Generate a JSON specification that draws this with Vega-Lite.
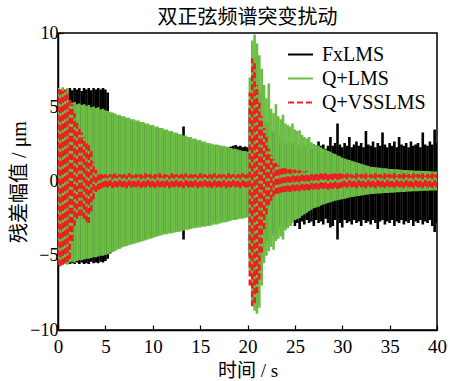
{
"$schema": "https://vega.github.io/schema/vega-lite/v6.json",
"width": 379, "height": 297,
"autosize": "none",
"padding": {"left": 58, "top": 33, "right": 13, "bottom": 51},
"background": "white",
"title": {"text": "双正弦频谱突变扰动", "font": "Noto Sans CJK SC", "fontSize": 20, "fontWeight": "normal", "color": "black", "offset": -4},
"config": {
  "view": {"stroke": "black", "strokeWidth": 1.5},
  "axis": {"grid": false, "domainColor": "black", "domainWidth": 1.5, "tickColor": "black", "tickSize": -5, "tickWidth": 1.2, "labelFont": "Liberation Serif", "labelFontSize": 19, "labelColor": "black", "titleFont": "Liberation Serif, Noto Sans CJK SC", "titleFontSize": 19, "titleFontWeight": "normal", "titleColor": "black", "labelFlush": false, "labelOverlap": false},
  "legend": {"orient": "none", "legendX": 229, "legendY": 8, "labelFont": "Liberation Serif", "labelFontSize": 20, "labelColor": "black", "symbolSize": 625, "symbolStrokeWidth": 2, "labelOffset": 8, "rowPadding": -3, "symbolType": "stroke"}
},
"data": {"values": [
{"s":"FxLMS","t":0,"lo":-5.4,"hi":5.9},{"s":"FxLMS","t":0.25,"lo":-5.5,"hi":6.0},{"s":"FxLMS","t":0.5,"lo":-5.4,"hi":6.1},{"s":"FxLMS","t":0.75,"lo":-5.5,"hi":6.0},
{"s":"FxLMS","t":1,"lo":-5.5,"hi":6.2},{"s":"FxLMS","t":1.25,"lo":-5.55,"hi":6.3},{"s":"FxLMS","t":1.5,"lo":-5.5,"hi":6.15},{"s":"FxLMS","t":1.75,"lo":-5.55,"hi":6.3},
{"s":"FxLMS","t":2,"lo":-5.45,"hi":6.2},{"s":"FxLMS","t":2.25,"lo":-5.55,"hi":6.3},{"s":"FxLMS","t":2.5,"lo":-5.45,"hi":6.1},{"s":"FxLMS","t":2.75,"lo":-5.55,"hi":6.3},
{"s":"FxLMS","t":3,"lo":-5.5,"hi":6.2},{"s":"FxLMS","t":3.25,"lo":-5.55,"hi":6.3},{"s":"FxLMS","t":3.5,"lo":-5.4,"hi":6.15},{"s":"FxLMS","t":3.75,"lo":-5.5,"hi":6.3},
{"s":"FxLMS","t":4,"lo":-5.45,"hi":6.2},{"s":"FxLMS","t":4.25,"lo":-5.5,"hi":6.3},{"s":"FxLMS","t":4.5,"lo":-5.4,"hi":6.2},{"s":"FxLMS","t":4.75,"lo":-5.45,"hi":6.3},
{"s":"FxLMS","t":5,"lo":-5.35,"hi":6.2},{"s":"FxLMS","t":5.25,"lo":-5.2,"hi":6.0},{"s":"FxLMS","t":5.5,"lo":-4.85,"hi":4.6},{"s":"FxLMS","t":5.75,"lo":-4.75,"hi":4.55},
{"s":"FxLMS","t":6,"lo":-4.65,"hi":4.5},{"s":"FxLMS","t":6.25,"lo":-4.5,"hi":4.4},{"s":"FxLMS","t":6.5,"lo":-4.45,"hi":4.4},{"s":"FxLMS","t":6.75,"lo":-4.35,"hi":4.3},
{"s":"FxLMS","t":7,"lo":-4.3,"hi":4.3},{"s":"FxLMS","t":7.25,"lo":-4.25,"hi":4.2},{"s":"FxLMS","t":7.5,"lo":-4.2,"hi":4.2},{"s":"FxLMS","t":7.75,"lo":-4.15,"hi":4.1},
{"s":"FxLMS","t":8,"lo":-4.1,"hi":4.1},{"s":"FxLMS","t":8.25,"lo":-4.05,"hi":4.0},{"s":"FxLMS","t":8.5,"lo":-4.0,"hi":4.0},{"s":"FxLMS","t":8.75,"lo":-3.95,"hi":3.9},
{"s":"FxLMS","t":9,"lo":-3.9,"hi":3.9},{"s":"FxLMS","t":9.25,"lo":-3.85,"hi":3.8},{"s":"FxLMS","t":9.5,"lo":-3.8,"hi":3.8},{"s":"FxLMS","t":9.75,"lo":-3.75,"hi":3.7},
{"s":"FxLMS","t":10,"lo":-3.7,"hi":3.7},{"s":"FxLMS","t":10.25,"lo":-3.65,"hi":3.6},{"s":"FxLMS","t":10.5,"lo":-3.6,"hi":3.6},{"s":"FxLMS","t":10.75,"lo":-3.55,"hi":3.5},
{"s":"FxLMS","t":11,"lo":-3.5,"hi":3.5},{"s":"FxLMS","t":11.25,"lo":-3.47,"hi":3.4},{"s":"FxLMS","t":11.5,"lo":-3.45,"hi":3.4},{"s":"FxLMS","t":11.75,"lo":-3.4,"hi":3.3},
{"s":"FxLMS","t":12,"lo":-3.4,"hi":3.3},{"s":"FxLMS","t":12.25,"lo":-3.35,"hi":3.2},{"s":"FxLMS","t":12.5,"lo":-3.3,"hi":3.2},{"s":"FxLMS","t":12.75,"lo":-3.3,"hi":3.1},
{"s":"FxLMS","t":13,"lo":-3.25,"hi":3.1},{"s":"FxLMS","t":13.25,"lo":-3.9,"hi":3.7},{"s":"FxLMS","t":13.5,"lo":-3.15,"hi":3.0},{"s":"FxLMS","t":13.75,"lo":-3.15,"hi":2.9},
{"s":"FxLMS","t":14,"lo":-3.1,"hi":2.9},{"s":"FxLMS","t":14.25,"lo":-3.05,"hi":2.8},{"s":"FxLMS","t":14.5,"lo":-3.05,"hi":2.8},{"s":"FxLMS","t":14.75,"lo":-3.0,"hi":2.7},
{"s":"FxLMS","t":15,"lo":-3.0,"hi":2.7},{"s":"FxLMS","t":15.25,"lo":-2.95,"hi":2.6},{"s":"FxLMS","t":15.5,"lo":-2.95,"hi":2.6},{"s":"FxLMS","t":15.75,"lo":-2.9,"hi":2.5},
{"s":"FxLMS","t":16,"lo":-2.9,"hi":2.5},{"s":"FxLMS","t":16.25,"lo":-2.85,"hi":2.45},{"s":"FxLMS","t":16.5,"lo":-2.8,"hi":2.4},{"s":"FxLMS","t":16.75,"lo":-2.8,"hi":2.4},
{"s":"FxLMS","t":17,"lo":-2.75,"hi":2.35},{"s":"FxLMS","t":17.25,"lo":-2.7,"hi":2.3},{"s":"FxLMS","t":17.5,"lo":-2.65,"hi":2.3},{"s":"FxLMS","t":17.75,"lo":-2.65,"hi":2.25},
{"s":"FxLMS","t":18,"lo":-2.6,"hi":2.3},{"s":"FxLMS","t":18.25,"lo":-2.55,"hi":2.35},{"s":"FxLMS","t":18.5,"lo":-2.55,"hi":2.4},{"s":"FxLMS","t":18.75,"lo":-2.5,"hi":2.45},
{"s":"FxLMS","t":19,"lo":-2.5,"hi":2.35},{"s":"FxLMS","t":19.25,"lo":-2.45,"hi":2.4},{"s":"FxLMS","t":19.5,"lo":-2.4,"hi":2.3},{"s":"FxLMS","t":19.75,"lo":-2.4,"hi":2.35},
{"s":"FxLMS","t":20,"lo":-2.35,"hi":2.3},{"s":"FxLMS","t":20.25,"lo":-5,"hi":5},{"s":"FxLMS","t":20.5,"lo":-7,"hi":7},{"s":"FxLMS","t":20.75,"lo":-7.5,"hi":8},
{"s":"FxLMS","t":21,"lo":-7,"hi":7},{"s":"FxLMS","t":21.25,"lo":-6,"hi":6},{"s":"FxLMS","t":21.5,"lo":-5,"hi":5},{"s":"FxLMS","t":21.75,"lo":-4.5,"hi":4.5},
{"s":"FxLMS","t":22,"lo":-4,"hi":4},{"s":"FxLMS","t":22.25,"lo":-3.8,"hi":3.8},{"s":"FxLMS","t":22.5,"lo":-3.6,"hi":3.5},{"s":"FxLMS","t":22.75,"lo":-3.5,"hi":3.3},
{"s":"FxLMS","t":23,"lo":-3.4,"hi":3.2},{"s":"FxLMS","t":23.25,"lo":-3.2,"hi":3.0},{"s":"FxLMS","t":23.5,"lo":-2.9,"hi":2.5},{"s":"FxLMS","t":23.75,"lo":-3.0,"hi":2.4},
{"s":"FxLMS","t":24,"lo":-3.1,"hi":2.6},{"s":"FxLMS","t":24.25,"lo":-2.8,"hi":2.3},{"s":"FxLMS","t":24.5,"lo":-3.0,"hi":2.5},{"s":"FxLMS","t":24.75,"lo":-2.7,"hi":2.6},
{"s":"FxLMS","t":25,"lo":-3.0,"hi":2.4},{"s":"FxLMS","t":25.25,"lo":-2.8,"hi":2.5},{"s":"FxLMS","t":25.5,"lo":-3.2,"hi":2.2},{"s":"FxLMS","t":25.75,"lo":-2.7,"hi":2.6},
{"s":"FxLMS","t":26,"lo":-2.9,"hi":2.4},{"s":"FxLMS","t":26.25,"lo":-2.6,"hi":2.3},{"s":"FxLMS","t":26.5,"lo":-2.8,"hi":2.6},{"s":"FxLMS","t":26.75,"lo":-2.7,"hi":2.2},
{"s":"FxLMS","t":27,"lo":-3.0,"hi":2.5},{"s":"FxLMS","t":27.25,"lo":-2.6,"hi":2.3},{"s":"FxLMS","t":27.5,"lo":-2.8,"hi":2.7},{"s":"FxLMS","t":27.75,"lo":-2.7,"hi":2.4},
{"s":"FxLMS","t":28,"lo":-2.9,"hi":2.5},{"s":"FxLMS","t":28.25,"lo":-2.5,"hi":2.2},{"s":"FxLMS","t":28.5,"lo":-2.8,"hi":2.4},{"s":"FxLMS","t":28.75,"lo":-3.1,"hi":3.0},
{"s":"FxLMS","t":29,"lo":-3.0,"hi":2.4},{"s":"FxLMS","t":29.25,"lo":-2.6,"hi":2.6},{"s":"FxLMS","t":29.5,"lo":-3.9,"hi":3.9},{"s":"FxLMS","t":29.75,"lo":-2.8,"hi":2.5},
{"s":"FxLMS","t":30,"lo":-3.1,"hi":2.3},{"s":"FxLMS","t":30.25,"lo":-2.6,"hi":2.6},{"s":"FxLMS","t":30.5,"lo":-2.8,"hi":2.4},{"s":"FxLMS","t":30.75,"lo":-2.7,"hi":3.0},
{"s":"FxLMS","t":31,"lo":-2.9,"hi":2.3},{"s":"FxLMS","t":31.25,"lo":-2.6,"hi":2.5},{"s":"FxLMS","t":31.5,"lo":-2.8,"hi":2.7},{"s":"FxLMS","t":31.75,"lo":-2.7,"hi":2.4},
{"s":"FxLMS","t":32,"lo":-3.0,"hi":2.6},{"s":"FxLMS","t":32.25,"lo":-2.6,"hi":2.3},{"s":"FxLMS","t":32.5,"lo":-2.8,"hi":3.4},{"s":"FxLMS","t":32.75,"lo":-2.7,"hi":2.5},
{"s":"FxLMS","t":33,"lo":-2.9,"hi":2.4},{"s":"FxLMS","t":33.25,"lo":-2.6,"hi":2.7},{"s":"FxLMS","t":33.5,"lo":-2.8,"hi":2.3},{"s":"FxLMS","t":33.75,"lo":-3.2,"hi":2.6},
{"s":"FxLMS","t":34,"lo":-2.7,"hi":2.4},{"s":"FxLMS","t":34.25,"lo":-2.6,"hi":3.3},{"s":"FxLMS","t":34.5,"lo":-2.9,"hi":2.5},{"s":"FxLMS","t":34.75,"lo":-2.7,"hi":2.3},
{"s":"FxLMS","t":35,"lo":-2.8,"hi":2.6},{"s":"FxLMS","t":35.25,"lo":-2.6,"hi":2.4},{"s":"FxLMS","t":35.5,"lo":-3.0,"hi":2.7},{"s":"FxLMS","t":35.75,"lo":-2.7,"hi":2.3},
{"s":"FxLMS","t":36,"lo":-2.8,"hi":3.0},{"s":"FxLMS","t":36.25,"lo":-2.6,"hi":2.5},{"s":"FxLMS","t":36.5,"lo":-2.9,"hi":2.4},{"s":"FxLMS","t":36.75,"lo":-2.7,"hi":2.6},
{"s":"FxLMS","t":37,"lo":-2.8,"hi":2.3},{"s":"FxLMS","t":37.25,"lo":-2.6,"hi":2.7},{"s":"FxLMS","t":37.5,"lo":-3.0,"hi":2.4},{"s":"FxLMS","t":37.75,"lo":-2.7,"hi":2.5},
{"s":"FxLMS","t":38,"lo":-2.8,"hi":2.6},{"s":"FxLMS","t":38.25,"lo":-2.6,"hi":2.3},{"s":"FxLMS","t":38.5,"lo":-2.9,"hi":3.3},{"s":"FxLMS","t":38.75,"lo":-2.7,"hi":2.5},
{"s":"FxLMS","t":39,"lo":-2.8,"hi":2.4},{"s":"FxLMS","t":39.25,"lo":-2.6,"hi":2.7},{"s":"FxLMS","t":39.5,"lo":-3.0,"hi":2.5},{"s":"FxLMS","t":39.75,"lo":-3.4,"hi":3.5},
{"s":"FxLMS","t":40,"lo":-2.8,"hi":2.6},

{"s":"Q+LMS","t":0,"lo":-5.6,"hi":6.3},{"s":"Q+LMS","t":0.25,"lo":-5.5,"hi":6.2},{"s":"Q+LMS","t":0.5,"lo":-5.6,"hi":6.35},{"s":"Q+LMS","t":0.75,"lo":-5.55,"hi":6.2},
{"s":"Q+LMS","t":1,"lo":-5.6,"hi":6.3},{"s":"Q+LMS","t":1.25,"lo":-5.45,"hi":5.4},{"s":"Q+LMS","t":1.5,"lo":-5.4,"hi":5.3},{"s":"Q+LMS","t":1.75,"lo":-5.45,"hi":5.35},
{"s":"Q+LMS","t":2,"lo":-5.35,"hi":5.2},{"s":"Q+LMS","t":2.25,"lo":-5.3,"hi":5.25},{"s":"Q+LMS","t":2.5,"lo":-5.3,"hi":5.15},{"s":"Q+LMS","t":2.75,"lo":-5.25,"hi":5.2},
{"s":"Q+LMS","t":3,"lo":-5.2,"hi":5.1},{"s":"Q+LMS","t":3.25,"lo":-5.2,"hi":5.15},{"s":"Q+LMS","t":3.5,"lo":-5.15,"hi":5.0},{"s":"Q+LMS","t":3.75,"lo":-5.1,"hi":5.05},
{"s":"Q+LMS","t":4,"lo":-5.1,"hi":4.95},{"s":"Q+LMS","t":4.25,"lo":-5.05,"hi":5.0},{"s":"Q+LMS","t":4.5,"lo":-5.0,"hi":4.85},{"s":"Q+LMS","t":4.75,"lo":-5.0,"hi":4.9},
{"s":"Q+LMS","t":5,"lo":-4.95,"hi":4.8},{"s":"Q+LMS","t":5.25,"lo":-4.9,"hi":4.75},{"s":"Q+LMS","t":5.5,"lo":-4.8,"hi":4.7},{"s":"Q+LMS","t":5.75,"lo":-4.75,"hi":4.65},
{"s":"Q+LMS","t":6,"lo":-4.7,"hi":4.6},{"s":"Q+LMS","t":6.25,"lo":-4.6,"hi":4.5},{"s":"Q+LMS","t":6.5,"lo":-4.55,"hi":4.5},{"s":"Q+LMS","t":6.75,"lo":-4.45,"hi":4.4},
{"s":"Q+LMS","t":7,"lo":-4.4,"hi":4.4},{"s":"Q+LMS","t":7.25,"lo":-4.35,"hi":4.3},{"s":"Q+LMS","t":7.5,"lo":-4.3,"hi":4.3},{"s":"Q+LMS","t":7.75,"lo":-4.25,"hi":4.2},
{"s":"Q+LMS","t":8,"lo":-4.2,"hi":4.2},{"s":"Q+LMS","t":8.25,"lo":-4.15,"hi":4.1},{"s":"Q+LMS","t":8.5,"lo":-4.1,"hi":4.1},{"s":"Q+LMS","t":8.75,"lo":-4.05,"hi":4.0},
{"s":"Q+LMS","t":9,"lo":-4.0,"hi":4.0},{"s":"Q+LMS","t":9.25,"lo":-3.95,"hi":3.9},{"s":"Q+LMS","t":9.5,"lo":-3.9,"hi":3.9},{"s":"Q+LMS","t":9.75,"lo":-3.85,"hi":3.8},
{"s":"Q+LMS","t":10,"lo":-3.8,"hi":3.8},{"s":"Q+LMS","t":10.25,"lo":-3.75,"hi":3.7},{"s":"Q+LMS","t":10.5,"lo":-3.7,"hi":3.7},{"s":"Q+LMS","t":10.75,"lo":-3.65,"hi":3.6},
{"s":"Q+LMS","t":11,"lo":-3.6,"hi":3.6},{"s":"Q+LMS","t":11.25,"lo":-3.57,"hi":3.5},{"s":"Q+LMS","t":11.5,"lo":-3.55,"hi":3.5},{"s":"Q+LMS","t":11.75,"lo":-3.5,"hi":3.4},
{"s":"Q+LMS","t":12,"lo":-3.5,"hi":3.4},{"s":"Q+LMS","t":12.25,"lo":-3.45,"hi":3.3},{"s":"Q+LMS","t":12.5,"lo":-3.4,"hi":3.3},{"s":"Q+LMS","t":12.75,"lo":-3.4,"hi":3.2},
{"s":"Q+LMS","t":13,"lo":-3.35,"hi":3.2},{"s":"Q+LMS","t":13.25,"lo":-3.3,"hi":3.1},{"s":"Q+LMS","t":13.5,"lo":-3.25,"hi":3.1},{"s":"Q+LMS","t":13.75,"lo":-3.25,"hi":3.0},
{"s":"Q+LMS","t":14,"lo":-3.2,"hi":3.0},{"s":"Q+LMS","t":14.25,"lo":-3.15,"hi":2.9},{"s":"Q+LMS","t":14.5,"lo":-3.15,"hi":2.9},{"s":"Q+LMS","t":14.75,"lo":-3.1,"hi":2.8},
{"s":"Q+LMS","t":15,"lo":-3.1,"hi":2.8},{"s":"Q+LMS","t":15.25,"lo":-3.05,"hi":2.7},{"s":"Q+LMS","t":15.5,"lo":-3.05,"hi":2.7},{"s":"Q+LMS","t":15.75,"lo":-3.0,"hi":2.6},
{"s":"Q+LMS","t":16,"lo":-3.0,"hi":2.6},{"s":"Q+LMS","t":16.25,"lo":-2.95,"hi":2.55},{"s":"Q+LMS","t":16.5,"lo":-2.9,"hi":2.5},{"s":"Q+LMS","t":16.75,"lo":-2.9,"hi":2.5},
{"s":"Q+LMS","t":17,"lo":-2.85,"hi":2.45},{"s":"Q+LMS","t":17.25,"lo":-2.8,"hi":2.4},{"s":"Q+LMS","t":17.5,"lo":-2.75,"hi":2.4},{"s":"Q+LMS","t":17.75,"lo":-2.75,"hi":2.35},
{"s":"Q+LMS","t":18,"lo":-2.7,"hi":2.3},{"s":"Q+LMS","t":18.25,"lo":-2.65,"hi":2.25},{"s":"Q+LMS","t":18.5,"lo":-2.6,"hi":2.2},{"s":"Q+LMS","t":18.75,"lo":-2.6,"hi":2.2},
{"s":"Q+LMS","t":19,"lo":-2.55,"hi":2.15},{"s":"Q+LMS","t":19.25,"lo":-2.5,"hi":2.1},{"s":"Q+LMS","t":19.5,"lo":-2.5,"hi":2.05},{"s":"Q+LMS","t":19.75,"lo":-2.45,"hi":2.05},
{"s":"Q+LMS","t":20,"lo":-2.4,"hi":2.0},{"s":"Q+LMS","t":20.25,"lo":-6.0,"hi":7.0},{"s":"Q+LMS","t":20.5,"lo":-8.3,"hi":9.5},{"s":"Q+LMS","t":20.75,"lo":-8.7,"hi":9.9},
{"s":"Q+LMS","t":21,"lo":-8.9,"hi":9.3},{"s":"Q+LMS","t":21.25,"lo":-8.5,"hi":8.5},{"s":"Q+LMS","t":21.5,"lo":-7.0,"hi":7.6},{"s":"Q+LMS","t":21.75,"lo":-5.5,"hi":6.5},
{"s":"Q+LMS","t":22,"lo":-5.0,"hi":5.6},{"s":"Q+LMS","t":22.25,"lo":-4.7,"hi":6.6},{"s":"Q+LMS","t":22.5,"lo":-4.4,"hi":4.9},{"s":"Q+LMS","t":22.75,"lo":-4.6,"hi":4.6},
{"s":"Q+LMS","t":23,"lo":-4.0,"hi":5.2},{"s":"Q+LMS","t":23.25,"lo":-3.85,"hi":4.4},{"s":"Q+LMS","t":23.5,"lo":-3.7,"hi":4.2},{"s":"Q+LMS","t":23.75,"lo":-3.9,"hi":4.5},
{"s":"Q+LMS","t":24,"lo":-3.3,"hi":3.9},{"s":"Q+LMS","t":24.25,"lo":-3.15,"hi":3.8},{"s":"Q+LMS","t":24.5,"lo":-3.0,"hi":3.7},{"s":"Q+LMS","t":24.75,"lo":-2.8,"hi":3.9},
{"s":"Q+LMS","t":25,"lo":-2.6,"hi":3.5},{"s":"Q+LMS","t":25.25,"lo":-2.55,"hi":3.4},{"s":"Q+LMS","t":25.5,"lo":-2.45,"hi":3.45},{"s":"Q+LMS","t":25.75,"lo":-2.3,"hi":3.15},
{"s":"Q+LMS","t":26,"lo":-2.2,"hi":3.0},{"s":"Q+LMS","t":26.25,"lo":-2.1,"hi":2.9},{"s":"Q+LMS","t":26.5,"lo":-2.0,"hi":3.0},{"s":"Q+LMS","t":26.75,"lo":-1.9,"hi":2.65},
{"s":"Q+LMS","t":27,"lo":-1.8,"hi":2.5},{"s":"Q+LMS","t":27.25,"lo":-1.75,"hi":2.45},{"s":"Q+LMS","t":27.5,"lo":-1.7,"hi":2.4},{"s":"Q+LMS","t":27.75,"lo":-1.62,"hi":2.3},
{"s":"Q+LMS","t":28,"lo":-1.55,"hi":2.2},{"s":"Q+LMS","t":28.25,"lo":-1.5,"hi":2.15},{"s":"Q+LMS","t":28.5,"lo":-1.45,"hi":2.05},{"s":"Q+LMS","t":28.75,"lo":-1.4,"hi":2.0},
{"s":"Q+LMS","t":29,"lo":-1.35,"hi":1.9},{"s":"Q+LMS","t":29.25,"lo":-1.3,"hi":1.85},{"s":"Q+LMS","t":29.5,"lo":-1.27,"hi":1.75},{"s":"Q+LMS","t":29.75,"lo":-1.23,"hi":1.7},
{"s":"Q+LMS","t":30,"lo":-1.2,"hi":1.6},{"s":"Q+LMS","t":30.25,"lo":-1.16,"hi":1.55},{"s":"Q+LMS","t":30.5,"lo":-1.12,"hi":1.5},{"s":"Q+LMS","t":30.75,"lo":-1.08,"hi":1.45},
{"s":"Q+LMS","t":31,"lo":-1.05,"hi":1.4},{"s":"Q+LMS","t":31.25,"lo":-1.02,"hi":1.35},{"s":"Q+LMS","t":31.5,"lo":-1.0,"hi":1.3},{"s":"Q+LMS","t":31.75,"lo":-0.97,"hi":1.25},
{"s":"Q+LMS","t":32,"lo":-0.95,"hi":1.2},{"s":"Q+LMS","t":32.25,"lo":-0.92,"hi":1.15},{"s":"Q+LMS","t":32.5,"lo":-0.9,"hi":1.1},{"s":"Q+LMS","t":32.75,"lo":-0.87,"hi":1.05},
{"s":"Q+LMS","t":33,"lo":-0.85,"hi":1.0},{"s":"Q+LMS","t":33.25,"lo":-0.84,"hi":0.98},{"s":"Q+LMS","t":33.5,"lo":-0.82,"hi":0.96},{"s":"Q+LMS","t":33.75,"lo":-0.81,"hi":0.94},
{"s":"Q+LMS","t":34,"lo":-0.8,"hi":0.92},{"s":"Q+LMS","t":34.25,"lo":-0.79,"hi":0.9},{"s":"Q+LMS","t":34.5,"lo":-0.78,"hi":0.89},{"s":"Q+LMS","t":34.75,"lo":-0.77,"hi":0.87},
{"s":"Q+LMS","t":35,"lo":-0.76,"hi":0.85},{"s":"Q+LMS","t":35.25,"lo":-0.75,"hi":0.84},{"s":"Q+LMS","t":35.5,"lo":-0.74,"hi":0.83},{"s":"Q+LMS","t":35.75,"lo":-0.73,"hi":0.82},
{"s":"Q+LMS","t":36,"lo":-0.72,"hi":0.8},{"s":"Q+LMS","t":36.25,"lo":-0.71,"hi":0.79},{"s":"Q+LMS","t":36.5,"lo":-0.7,"hi":0.78},{"s":"Q+LMS","t":36.75,"lo":-0.69,"hi":0.77},
{"s":"Q+LMS","t":37,"lo":-0.68,"hi":0.76},{"s":"Q+LMS","t":37.25,"lo":-0.67,"hi":0.75},{"s":"Q+LMS","t":37.5,"lo":-0.66,"hi":0.74},{"s":"Q+LMS","t":37.75,"lo":-0.65,"hi":0.73},
{"s":"Q+LMS","t":38,"lo":-0.65,"hi":0.72},{"s":"Q+LMS","t":38.25,"lo":-0.64,"hi":0.72},{"s":"Q+LMS","t":38.5,"lo":-0.63,"hi":0.71},{"s":"Q+LMS","t":38.75,"lo":-0.62,"hi":0.7},
{"s":"Q+LMS","t":39,"lo":-0.62,"hi":0.7},{"s":"Q+LMS","t":39.25,"lo":-0.61,"hi":0.69},{"s":"Q+LMS","t":39.5,"lo":-0.6,"hi":0.68},{"s":"Q+LMS","t":39.75,"lo":-0.6,"hi":0.68},
{"s":"Q+LMS","t":40,"lo":-0.6,"hi":0.67},

{"s":"Q+VSSLMS","t":0,"lo":-5.6,"hi":6.2},{"s":"Q+VSSLMS","t":0.25,"lo":-5.7,"hi":6.3},{"s":"Q+VSSLMS","t":0.5,"lo":-5.6,"hi":6.1},{"s":"Q+VSSLMS","t":0.75,"lo":-5.5,"hi":6.2},
{"s":"Q+VSSLMS","t":1,"lo":-5.4,"hi":6.0},{"s":"Q+VSSLMS","t":1.25,"lo":-5.2,"hi":5.7},{"s":"Q+VSSLMS","t":1.5,"lo":-4.0,"hi":5.2},{"s":"Q+VSSLMS","t":1.75,"lo":-3.0,"hi":4.6},
{"s":"Q+VSSLMS","t":2,"lo":-2.5,"hi":4.1},{"s":"Q+VSSLMS","t":2.25,"lo":-2.3,"hi":3.7},{"s":"Q+VSSLMS","t":2.5,"lo":-2.3,"hi":3.3},{"s":"Q+VSSLMS","t":2.75,"lo":-2.5,"hi":3.0},
{"s":"Q+VSSLMS","t":3,"lo":-2.7,"hi":2.7},{"s":"Q+VSSLMS","t":3.25,"lo":-2.8,"hi":2.5},{"s":"Q+VSSLMS","t":3.5,"lo":-2.0,"hi":2.1},{"s":"Q+VSSLMS","t":3.75,"lo":-1.2,"hi":1.3},
{"s":"Q+VSSLMS","t":4,"lo":-0.7,"hi":0.8},{"s":"Q+VSSLMS","t":4.25,"lo":-0.55,"hi":0.6},{"s":"Q+VSSLMS","t":4.5,"lo":-0.5,"hi":0.5},{"s":"Q+VSSLMS","t":4.75,"lo":-0.4,"hi":0.45},
{"s":"Q+VSSLMS","t":5,"lo":-0.35,"hi":0.5},{"s":"Q+VSSLMS","t":5.25,"lo":-0.4,"hi":0.4},{"s":"Q+VSSLMS","t":5.5,"lo":-0.3,"hi":0.5},{"s":"Q+VSSLMS","t":5.75,"lo":-0.45,"hi":0.45},
{"s":"Q+VSSLMS","t":6,"lo":-0.35,"hi":0.55},{"s":"Q+VSSLMS","t":6.25,"lo":-0.4,"hi":0.4},{"s":"Q+VSSLMS","t":6.5,"lo":-0.3,"hi":0.5},{"s":"Q+VSSLMS","t":6.75,"lo":-0.4,"hi":0.45},
{"s":"Q+VSSLMS","t":7,"lo":-0.35,"hi":0.5},{"s":"Q+VSSLMS","t":7.25,"lo":-0.45,"hi":0.4},{"s":"Q+VSSLMS","t":7.5,"lo":-0.3,"hi":0.55},{"s":"Q+VSSLMS","t":7.75,"lo":-0.4,"hi":0.45},
{"s":"Q+VSSLMS","t":8,"lo":-0.35,"hi":0.4},{"s":"Q+VSSLMS","t":8.25,"lo":-0.4,"hi":0.5},{"s":"Q+VSSLMS","t":8.5,"lo":-0.3,"hi":0.45},{"s":"Q+VSSLMS","t":8.75,"lo":-0.45,"hi":0.5},
{"s":"Q+VSSLMS","t":9,"lo":-0.35,"hi":0.4},{"s":"Q+VSSLMS","t":9.25,"lo":-0.4,"hi":0.55},{"s":"Q+VSSLMS","t":9.5,"lo":-0.3,"hi":0.45},{"s":"Q+VSSLMS","t":9.75,"lo":-0.4,"hi":0.5},
{"s":"Q+VSSLMS","t":10,"lo":-0.35,"hi":0.4},{"s":"Q+VSSLMS","t":10.25,"lo":-0.45,"hi":0.5},{"s":"Q+VSSLMS","t":10.5,"lo":-0.3,"hi":0.45},{"s":"Q+VSSLMS","t":10.75,"lo":-0.4,"hi":0.55},
{"s":"Q+VSSLMS","t":11,"lo":-0.35,"hi":0.4},{"s":"Q+VSSLMS","t":11.25,"lo":-0.4,"hi":0.5},{"s":"Q+VSSLMS","t":11.5,"lo":-0.3,"hi":0.45},{"s":"Q+VSSLMS","t":11.75,"lo":-0.45,"hi":0.4},
{"s":"Q+VSSLMS","t":12,"lo":-0.35,"hi":0.55},{"s":"Q+VSSLMS","t":12.25,"lo":-0.4,"hi":0.45},{"s":"Q+VSSLMS","t":12.5,"lo":-0.3,"hi":0.5},{"s":"Q+VSSLMS","t":12.75,"lo":-0.4,"hi":0.4},
{"s":"Q+VSSLMS","t":13,"lo":-0.35,"hi":0.5},{"s":"Q+VSSLMS","t":13.25,"lo":-0.45,"hi":0.45},{"s":"Q+VSSLMS","t":13.5,"lo":-0.3,"hi":0.55},{"s":"Q+VSSLMS","t":13.75,"lo":-0.4,"hi":0.4},
{"s":"Q+VSSLMS","t":14,"lo":-0.35,"hi":0.5},{"s":"Q+VSSLMS","t":14.25,"lo":-0.4,"hi":0.45},{"s":"Q+VSSLMS","t":14.5,"lo":-0.3,"hi":0.5},{"s":"Q+VSSLMS","t":14.75,"lo":-0.45,"hi":0.4},
{"s":"Q+VSSLMS","t":15,"lo":-0.35,"hi":0.55},{"s":"Q+VSSLMS","t":15.25,"lo":-0.4,"hi":0.45},{"s":"Q+VSSLMS","t":15.5,"lo":-0.3,"hi":0.5},{"s":"Q+VSSLMS","t":15.75,"lo":-0.4,"hi":0.4},
{"s":"Q+VSSLMS","t":16,"lo":-0.35,"hi":0.5},{"s":"Q+VSSLMS","t":16.25,"lo":-0.45,"hi":0.45},{"s":"Q+VSSLMS","t":16.5,"lo":-0.3,"hi":0.55},{"s":"Q+VSSLMS","t":16.75,"lo":-0.4,"hi":0.4},
{"s":"Q+VSSLMS","t":17,"lo":-0.35,"hi":0.5},{"s":"Q+VSSLMS","t":17.25,"lo":-0.4,"hi":0.45},{"s":"Q+VSSLMS","t":17.5,"lo":-0.3,"hi":0.5},{"s":"Q+VSSLMS","t":17.75,"lo":-0.45,"hi":0.4},
{"s":"Q+VSSLMS","t":18,"lo":-0.35,"hi":0.55},{"s":"Q+VSSLMS","t":18.25,"lo":-0.4,"hi":0.45},{"s":"Q+VSSLMS","t":18.5,"lo":-0.3,"hi":0.5},{"s":"Q+VSSLMS","t":18.75,"lo":-0.4,"hi":0.4},
{"s":"Q+VSSLMS","t":19,"lo":-0.35,"hi":0.5},{"s":"Q+VSSLMS","t":19.25,"lo":-0.45,"hi":0.45},{"s":"Q+VSSLMS","t":19.5,"lo":-0.3,"hi":0.55},{"s":"Q+VSSLMS","t":19.75,"lo":-0.4,"hi":0.45},
{"s":"Q+VSSLMS","t":20,"lo":-0.4,"hi":0.5},{"s":"Q+VSSLMS","t":20.25,"lo":-7.0,"hi":6.0},{"s":"Q+VSSLMS","t":20.5,"lo":-8.4,"hi":8.3},{"s":"Q+VSSLMS","t":20.75,"lo":-8.2,"hi":8.0},
{"s":"Q+VSSLMS","t":21,"lo":-7.5,"hi":6.5},{"s":"Q+VSSLMS","t":21.25,"lo":-6.6,"hi":5.3},{"s":"Q+VSSLMS","t":21.5,"lo":-4.8,"hi":4.4},{"s":"Q+VSSLMS","t":21.75,"lo":-3.2,"hi":3.6},
{"s":"Q+VSSLMS","t":22,"lo":-2.2,"hi":3.0},{"s":"Q+VSSLMS","t":22.25,"lo":-1.6,"hi":2.2},{"s":"Q+VSSLMS","t":22.5,"lo":-1.3,"hi":1.8},{"s":"Q+VSSLMS","t":22.75,"lo":-1.0,"hi":1.5},
{"s":"Q+VSSLMS","t":23,"lo":-0.85,"hi":1.25},{"s":"Q+VSSLMS","t":23.25,"lo":-0.8,"hi":1.1},{"s":"Q+VSSLMS","t":23.5,"lo":-0.75,"hi":1.0},{"s":"Q+VSSLMS","t":23.75,"lo":-0.72,"hi":0.95},
{"s":"Q+VSSLMS","t":24,"lo":-0.7,"hi":0.9},{"s":"Q+VSSLMS","t":24.25,"lo":-0.65,"hi":0.8},{"s":"Q+VSSLMS","t":24.5,"lo":-0.7,"hi":0.85},{"s":"Q+VSSLMS","t":24.75,"lo":-0.6,"hi":0.75},
{"s":"Q+VSSLMS","t":25,"lo":-0.65,"hi":0.8},{"s":"Q+VSSLMS","t":25.25,"lo":-0.6,"hi":0.7},{"s":"Q+VSSLMS","t":25.5,"lo":-0.65,"hi":0.75},{"s":"Q+VSSLMS","t":25.75,"lo":-0.55,"hi":0.7},
{"s":"Q+VSSLMS","t":26,"lo":-0.6,"hi":0.65},{"s":"Q+VSSLMS","t":26.25,"lo":-0.55,"hi":0.7},{"s":"Q+VSSLMS","t":26.5,"lo":-0.6,"hi":0.6},{"s":"Q+VSSLMS","t":26.75,"lo":-0.5,"hi":0.65},
{"s":"Q+VSSLMS","t":27,"lo":-0.55,"hi":0.6},{"s":"Q+VSSLMS","t":27.25,"lo":-0.5,"hi":0.5},{"s":"Q+VSSLMS","t":27.5,"lo":-0.55,"hi":0.55},{"s":"Q+VSSLMS","t":27.75,"lo":-0.45,"hi":0.6},
{"s":"Q+VSSLMS","t":28,"lo":-0.5,"hi":0.5},{"s":"Q+VSSLMS","t":28.25,"lo":-0.45,"hi":0.6},{"s":"Q+VSSLMS","t":28.5,"lo":-0.55,"hi":0.55},{"s":"Q+VSSLMS","t":28.75,"lo":-0.45,"hi":0.5},
{"s":"Q+VSSLMS","t":29,"lo":-0.5,"hi":0.6},{"s":"Q+VSSLMS","t":29.25,"lo":-0.4,"hi":0.55},{"s":"Q+VSSLMS","t":29.5,"lo":-0.5,"hi":0.5},{"s":"Q+VSSLMS","t":29.75,"lo":-0.45,"hi":0.55},
{"s":"Q+VSSLMS","t":30,"lo":-0.4,"hi":0.5},{"s":"Q+VSSLMS","t":30.25,"lo":-0.35,"hi":0.45},{"s":"Q+VSSLMS","t":30.5,"lo":-0.45,"hi":0.55},{"s":"Q+VSSLMS","t":30.75,"lo":-0.3,"hi":0.45},
{"s":"Q+VSSLMS","t":31,"lo":-0.4,"hi":0.5},{"s":"Q+VSSLMS","t":31.25,"lo":-0.35,"hi":0.4},{"s":"Q+VSSLMS","t":31.5,"lo":-0.45,"hi":0.55},{"s":"Q+VSSLMS","t":31.75,"lo":-0.3,"hi":0.45},
{"s":"Q+VSSLMS","t":32,"lo":-0.4,"hi":0.5},{"s":"Q+VSSLMS","t":32.25,"lo":-0.35,"hi":0.45},{"s":"Q+VSSLMS","t":32.5,"lo":-0.45,"hi":0.55},{"s":"Q+VSSLMS","t":32.75,"lo":-0.3,"hi":0.4},
{"s":"Q+VSSLMS","t":33,"lo":-0.4,"hi":0.5},{"s":"Q+VSSLMS","t":33.25,"lo":-0.35,"hi":0.45},{"s":"Q+VSSLMS","t":33.5,"lo":-0.45,"hi":0.55},{"s":"Q+VSSLMS","t":33.75,"lo":-0.3,"hi":0.45},
{"s":"Q+VSSLMS","t":34,"lo":-0.4,"hi":0.5},{"s":"Q+VSSLMS","t":34.25,"lo":-0.35,"hi":0.4},{"s":"Q+VSSLMS","t":34.5,"lo":-0.45,"hi":0.55},{"s":"Q+VSSLMS","t":34.75,"lo":-0.3,"hi":0.45},
{"s":"Q+VSSLMS","t":35,"lo":-0.4,"hi":0.5},{"s":"Q+VSSLMS","t":35.25,"lo":-0.35,"hi":0.45},{"s":"Q+VSSLMS","t":35.5,"lo":-0.45,"hi":0.55},{"s":"Q+VSSLMS","t":35.75,"lo":-0.3,"hi":0.4},
{"s":"Q+VSSLMS","t":36,"lo":-0.4,"hi":0.5},{"s":"Q+VSSLMS","t":36.25,"lo":-0.35,"hi":0.45},{"s":"Q+VSSLMS","t":36.5,"lo":-0.45,"hi":0.55},{"s":"Q+VSSLMS","t":36.75,"lo":-0.3,"hi":0.45},
{"s":"Q+VSSLMS","t":37,"lo":-0.4,"hi":0.5},{"s":"Q+VSSLMS","t":37.25,"lo":-0.35,"hi":0.4},{"s":"Q+VSSLMS","t":37.5,"lo":-0.45,"hi":0.55},{"s":"Q+VSSLMS","t":37.75,"lo":-0.3,"hi":0.45},
{"s":"Q+VSSLMS","t":38,"lo":-0.4,"hi":0.5},{"s":"Q+VSSLMS","t":38.25,"lo":-0.35,"hi":0.45},{"s":"Q+VSSLMS","t":38.5,"lo":-0.45,"hi":0.55},{"s":"Q+VSSLMS","t":38.75,"lo":-0.3,"hi":0.4},
{"s":"Q+VSSLMS","t":39,"lo":-0.4,"hi":0.5},{"s":"Q+VSSLMS","t":39.25,"lo":-0.35,"hi":0.45},{"s":"Q+VSSLMS","t":39.5,"lo":-0.45,"hi":0.55},{"s":"Q+VSSLMS","t":39.75,"lo":-0.3,"hi":0.45},
{"s":"Q+VSSLMS","t":40,"lo":-0.4,"hi":0.5}
]},
"mark": {"type": "rule", "strokeWidth": 2.6, "clip": true},
"encoding": {
  "x": {"field": "t", "type": "quantitative", "scale": {"domain": [0, 40], "nice": false, "zero": false},
        "axis": {"values": [0,5,10,15,20,25,30,35,40], "title": "时间 / s", "labelPadding": 12, "titlePadding": 5}},
  "y": {"field": "lo", "type": "quantitative", "scale": {"domain": [-10, 10], "nice": false},
        "axis": {"values": [-10,-5,0,5,10], "title": "残差幅值 / μm", "labelFontSize": 18, "labelPadding": 5, "titleFontSize": 20, "titleX": -39, "titleBaseline": "middle"}},
  "y2": {"field": "hi"},
  "color": {"field": "s", "type": "nominal", "scale": {"domain": ["FxLMS","Q+LMS","Q+VSSLMS"], "range": ["#000000","#6cbd45","#ee1d23"]}, "legend": {"title": null}},
  "strokeDash": {"field": "s", "type": "nominal", "scale": {"domain": ["FxLMS","Q+LMS","Q+VSSLMS"], "range": [[1,0],[1,0],[6,3]]}, "legend": {"title": null}}
}
}
